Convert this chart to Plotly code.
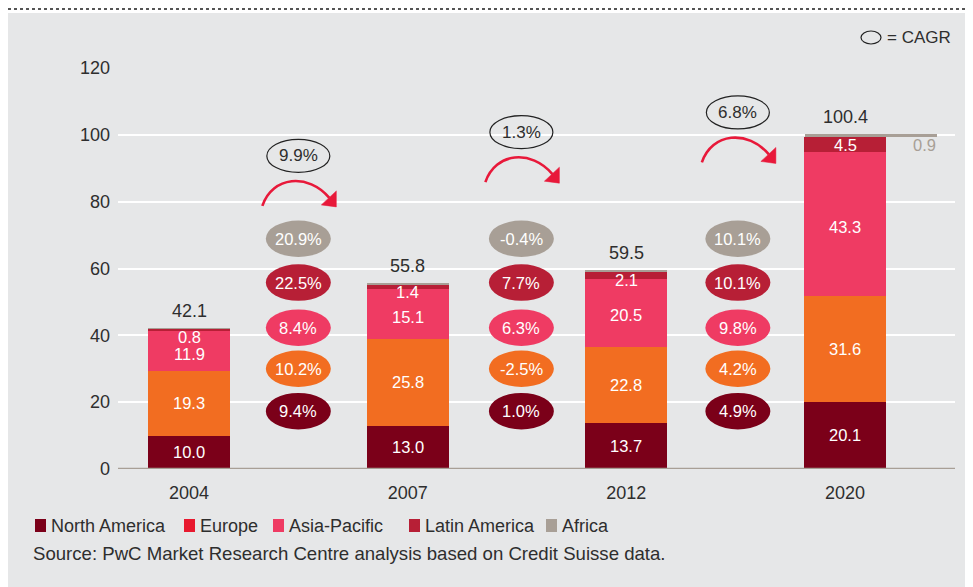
import plotly.graph_objects as go

# ---------------- data ----------------
years = ["2004", "2007", "2012", "2020"]
north_america = [10.0, 13.0, 13.7, 20.1]
europe = [19.3, 25.8, 22.8, 31.6]
asia_pacific = [11.9, 15.1, 20.5, 43.3]
latin_america = [0.8, 1.4, 2.1, 4.5]
africa = [0.1, 0.5, 0.4, 0.9]
totals = [42.1, 55.8, 59.5, 100.4]

cagr_total = ["9.9%", "1.3%", "6.8%"]
cagr_africa = ["20.9%", "-0.4%", "10.1%"]
cagr_latin = ["22.5%", "7.7%", "10.1%"]
cagr_asia = ["8.4%", "6.3%", "9.8%"]
cagr_europe = ["10.2%", "-2.5%", "4.2%"]
cagr_na = ["9.4%", "1.0%", "4.9%"]

legend_names = ["North America", "Europe", "Asia-Pacific", "Latin America", "Africa"]
source_text = "Source: PwC Market Research Centre analysis based on Credit Suisse data."

# ---------------- styling / layout ----------------
C_NA = "#7B0019"
C_EU = "#F26D21"
C_AP = "#EF3B63"
C_LA = "#B71F36"
C_AF = "#A89F96"
C_EU_LEG = "#E8192F"
BG = "#E6E7E8"
TXT = "#2E2E2E"
RED = "#E8193A"

FONT = "Liberation Sans, Arial, sans-serif"

OFF = 8                      # page body margin
W, H = 973 - OFF, 587 - OFF
PLOT_L, PLOT_R, PLOT_T, PLOT_B = 118, 955, 68, 469   # in page pixels
L, R, T, B = PLOT_L - OFF, W - (PLOT_R - OFF), PLOT_T - OFF, H - (PLOT_B - OFF)
PW, PH = W - L - R, H - T - B
X0PX = 189.0                 # page pixel of category 0
XS = 218.67                  # px per category
YS = PH / 120.0              # px per unit
XRANGE = [(PLOT_L - X0PX) / XS, (PLOT_R - X0PX) / XS]


def pxx(px):
    return (px - PLOT_L) / PW


def pxy(py):
    return (PLOT_B - py) / PH


xpos = list(range(len(years)))
BAR_W = 0.375

base_eu = list(north_america)
base_ap = [a + b for a, b in zip(base_eu, europe)]
base_la = [a + b for a, b in zip(base_ap, asia_pacific)]
base_af = [a + b for a, b in zip(base_la, latin_america)]

fig = go.Figure()

shapes = [
    dict(type="rect", xref="paper", yref="paper", x0=pxx(8), x1=pxx(970), y0=pxy(600), y1=pxy(13),
         fillcolor=BG, line_width=0, layer="below"),
    dict(type="line", xref="paper", yref="paper", x0=pxx(8), x1=pxx(980), y0=pxy(9), y1=pxy(9),
         line=dict(color="#555555", width=2, dash="dot")),
]

series = [
    (north_america, [0] * 4, C_NA),
    (europe, base_eu, C_EU),
    (asia_pacific, base_ap, C_AP),
    (latin_america, base_la, C_LA),
]
for vals, base, col in series:
    fig.add_trace(go.Bar(x=xpos, y=vals, base=base, width=BAR_W, marker=dict(color=col, line_width=0),
                         showlegend=False, hoverinfo="skip"))

af_width = [BAR_W] * 3 + [0.602]
af_offset = [-BAR_W / 2] * 3 + [-0.183]
fig.add_trace(go.Bar(x=xpos, y=africa, base=base_af, width=af_width, offset=af_offset,
                     marker=dict(color=C_AF, line_width=0), showlegend=False, hoverinfo="skip"))

annotations = []
LBL = 16.5


def ann(x, y, text, size=LBL, color="white", family=FONT, **kw):
    d = dict(x=x, y=y, xref="x", yref="y", text=text, showarrow=False,
             font=dict(size=size, color=color, family=family))
    d.update(kw)
    annotations.append(d)


for i in xpos:
    ann(i, north_america[i] / 2, f"{north_america[i]:.1f}")
    ann(i, base_eu[i] + europe[i] / 2, f"{europe[i]:.1f}")
    ann(i, base_ap[i] + asia_pacific[i] / 2 - 0.8, f"{asia_pacific[i]:.1f}")
    ann(i, base_af[i], f"{latin_america[i]:.1f}", yanchor="top", yshift=3)
    ann(i, totals[i], f"{totals[i]:.1f}", size=18, color=TXT, yanchor="bottom", yshift=5)
ann(3 + (924 - 845) / XS, base_af[3], f"{africa[3]:.1f}", color=C_AF, yanchor="top", yshift=3)

col_x = [0.5, 1.52, 2.51]
rows = [
    (cagr_africa, 68.9, C_AF),
    (cagr_latin, 55.8, C_LA),
    (cagr_asia, 42.3, C_AP),
    (cagr_europe, 30.0, C_EU),
    (cagr_na, 17.3, C_NA),
]
EW = 65 / XS / 2
EH = 36.5 / YS / 2
for labels, ry, col in rows:
    for j, cx in enumerate(col_x):
        shapes.append(dict(type="circle", xref="x", yref="y", x0=cx - EW, x1=cx + EW,
                           y0=ry - EH, y1=ry + EH, fillcolor=col, line_width=0))
        ann(cx, ry, labels[j])

tot_y = [93.7, 100.8, 106.7]
TW = 63 / XS / 2
TH = 33 / YS / 2
for j, cx in enumerate(col_x):
    cy = tot_y[j]
    shapes.append(dict(type="circle", xref="x", yref="y", x0=cx - TW, x1=cx + TW,
                       y0=cy - TH, y1=cy + TH, line=dict(color="#222222", width=1.2)))
    ann(cx, cy, cagr_total[j], color=TXT, size=17)

    def P(ox, oy):
        return f"{cx + ox / XS:.5f},{cy - oy / YS:.4f}"

    path = f"M {P(-36, 50)} C {P(-26, 20)} {P(10, 17)} {P(31, 42)}"
    shapes.append(dict(type="path", xref="x", yref="y", path=path,
                       line=dict(color=RED, width=2.6)))
    head = f"M {P(38, 51)} L {P(38, 35)} L {P(23, 49)} Z"
    shapes.append(dict(type="path", xref="x", yref="y", path=head,
                       fillcolor=RED, line=dict(color=RED, width=0.5)))

shapes.append(dict(type="line", xref="paper", yref="y", x0=0, x1=1, y0=0, y1=0,
                   line=dict(color=C_AF, width=2.5)))

shapes.append(dict(type="circle", xref="paper", yref="paper", x0=pxx(861), x1=pxx(881),
                   y0=pxy(44), y1=pxy(31), line=dict(color="#222222", width=1.2)))
annotations.append(dict(xref="paper", yref="paper", x=pxx(885), y=pxy(37.5), text="= CAGR",
                        showarrow=False, xanchor="left", yanchor="middle",
                        font=dict(size=17, color=TXT, family=FONT)))

leg_cols = [C_NA, C_EU_LEG, C_AP, C_LA, C_AF]
sq_x = [35, 184, 273, 409, 546]
for name, col, sx in zip(legend_names, leg_cols, sq_x):
    shapes.append(dict(type="rect", xref="paper", yref="paper", x0=pxx(sx), x1=pxx(sx + 11),
                       y0=pxy(532), y1=pxy(519), fillcolor=col, line_width=0))
    annotations.append(dict(xref="paper", yref="paper", x=pxx(sx + 14), y=pxy(525.5), text=name,
                            showarrow=False, xanchor="left", yanchor="middle",
                            font=dict(size=18, color=TXT, family=FONT)))
annotations.append(dict(xref="paper", yref="paper", x=pxx(31), y=pxy(553.5), text=source_text,
                        showarrow=False, xanchor="left", yanchor="middle",
                        font=dict(size=18.6, color=TXT, family=FONT)))

fig.update_layout(
    width=W, height=H,
    margin=dict(l=L, r=R, t=T, b=B, pad=0),
    paper_bgcolor="white",
    plot_bgcolor="rgba(0,0,0,0)",
    barmode="overlay",
    bargap=0,
    shapes=shapes,
    annotations=annotations,
    font=dict(family=FONT, color=TXT),
    xaxis=dict(range=XRANGE, tickvals=xpos, ticktext=years, showgrid=False, zeroline=False,
               showline=False, ticks="", tickfont=dict(size=18, color=TXT, family=FONT),
               ticklabelstandoff=11, fixedrange=True),
    yaxis=dict(range=[0, 120], tickvals=[0, 20, 40, 60, 80, 100, 120], showgrid=True,
               gridcolor="white", gridwidth=1.5, zeroline=False, showline=False, ticks="",
               tickfont=dict(size=18, color=TXT, family=FONT), ticklabelstandoff=7, fixedrange=True),
)

fig.write_html("out.html", config={"displayModeBar": False})
